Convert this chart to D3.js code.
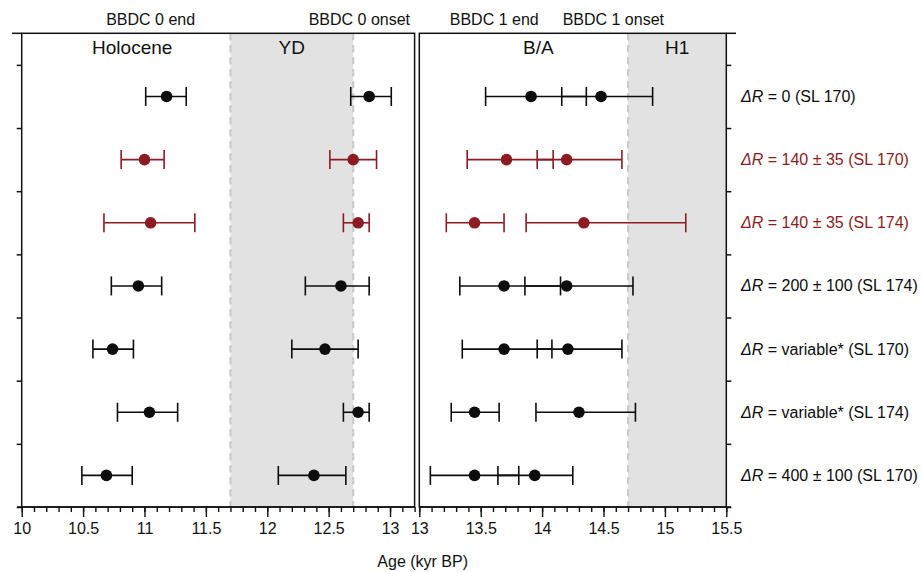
<!DOCTYPE html>
<html>
<head>
<meta charset="utf-8">
<script src="https://cdn.jsdelivr.net/npm/d3@7"></script>
<style>
  html, body { margin: 0; padding: 0; background: #fff; }
  svg { display: block; font-family: "Liberation Sans", Arial, Helvetica, sans-serif; }
</style>
</head>
<body>
<svg id="chart" width="922" height="572"></svg>
<script>
// Reservoir-age scenarios, one row each (top to bottom)
const deltaR = ["0", "140 ± 35", "140 ± 35", "200 ± 100", "variable*", "variable*", "400 ± 100"];
const cores = ["SL 170", "SL 170", "SL 174", "SL 174", "SL 170", "SL 174", "SL 170"];
const rowGroup = ["base", "alt", "alt", "base", "base", "base", "base"];

// Ages in kyr BP: [best estimate, lower bound, upper bound]
const bbdc0End = [
  [11.18, 11.01, 11.34], [11.00, 10.81, 11.16], [11.05, 10.67, 11.41], [10.95, 10.73, 11.14],
  [10.74, 10.58, 10.91], [11.04, 10.78, 11.27], [10.69, 10.49, 10.90]
];
const bbdc0Onset = [
  [12.83, 12.68, 13.01], [12.70, 12.51, 12.89], [12.74, 12.62, 12.83], [12.60, 12.31, 12.83],
  [12.47, 12.20, 12.74], [12.74, 12.62, 12.83], [12.38, 12.09, 12.64]
];
const bbdc1End = [
  [13.91, 13.54, 14.36], [13.71, 13.39, 14.09], [13.45, 13.22, 13.69], [13.69, 13.33, 14.15],
  [13.69, 13.35, 14.08], [13.45, 13.26, 13.65], [13.45, 13.09, 13.81]
];
const bbdc1Onset = [
  [14.48, 14.16, 14.90], [14.20, 13.96, 14.65], [14.34, 13.87, 15.17], [14.20, 13.86, 14.74],
  [14.21, 13.96, 14.65], [14.30, 13.95, 14.76], [13.94, 13.64, 14.25]
];

// Climate periods (shaded ones are stadials)
const periods = [
  { name: "Holocene", from: 10.0, to: 11.7, labelAt: 10.9, shaded: false },
  { name: "YD", from: 11.7, to: 12.7, labelAt: 12.2, shaded: true },
  { name: "B/A", from: 13.0, to: 14.7, labelAt: 13.97, shaded: false },
  { name: "H1", from: 14.7, to: 15.5, labelAt: 15.1, shaded: true }
];
const eventLabels = [
  { text: "BBDC 0 end", at: 11.05 },
  { text: "BBDC 0 onset", at: 12.75 },
  { text: "BBDC 1 end", at: 13.61 },
  { text: "BBDC 1 onset", at: 14.58 }
];

const leftTicks = [10, 10.5, 11, 11.5, 12, 12.5, 13];
const rightTicks = [13, 13.5, 14, 14.5, 15, 15.5];
const leftDomain = [10, 13.2];
const rightDomain = [13, 15.5];
const axisTitle = "Age (kyr BP)";

// ---------- layout ----------
const svg = d3.select("#chart");
const plotTop = 33.3, plotBottom = 507;
const xL = d3.scaleLinear().domain(leftDomain).range([21.7, 414.6]);
const xR = d3.scaleLinear().domain(rightDomain).range([419.3, 726.3]);
const y = d3.scaleLinear().domain([0, 7.5]).range([plotTop, plotBottom]);
const color = d3.scaleOrdinal().domain(["base", "alt"]).range(["#0d0d0d", "#8c1b24"]);

const ink = "#111";
const panels = [
  { x: xL, series: [bbdc0End, bbdc0Onset], ticks: leftTicks },
  { x: xR, series: [bbdc1End, bbdc1Onset], ticks: rightTicks }
];

// shading
periods.filter(p => p.shaded).forEach(p => {
  const sx = p.from < 13 ? xL : xR;
  svg.append("rect")
    .attr("x", sx(p.from)).attr("y", plotTop)
    .attr("width", sx(p.to) - sx(p.from)).attr("height", plotBottom - plotTop)
    .attr("fill", "#e2e2e2");
});
// dashed period boundaries
[[xL, 11.7], [xL, 12.7], [xR, 14.7]].forEach(([sx, v]) => {
  svg.append("line")
    .attr("x1", sx(v)).attr("x2", sx(v)).attr("y1", plotTop).attr("y2", plotBottom)
    .attr("stroke", "#cbcbcb").attr("stroke-width", 2.2)
    .attr("stroke-dasharray", "7,5");
});

// period names
periods.forEach(p => {
  const sx = p.from < 13 ? xL : xR;
  svg.append("text")
    .attr("x", sx(p.labelAt)).attr("y", 54)
    .attr("text-anchor", "middle").attr("font-size", 19).attr("fill", ink)
    .text(p.name);
});

// event names above the frame
eventLabels.forEach(e => {
  const sx = e.at < 13 ? xL : xR;
  svg.append("text")
    .attr("x", sx(e.at)).attr("y", 25)
    .attr("text-anchor", "middle").attr("font-size", 16).attr("fill", ink)
    .text(e.text);
});

// error bars and points
const cap = 9.5;
panels.forEach(panel => {
  const g = svg.append("g");
  panel.series.forEach(series => {
    series.forEach((d, i) => {
      const cy = y(i + 1);
      const c = color(rowGroup[i]);
      g.append("line")
        .attr("x1", panel.x(d[1])).attr("x2", panel.x(d[2]))
        .attr("y1", cy).attr("y2", cy)
        .attr("stroke", c).attr("stroke-width", 1.6);
      [d[1], d[2]].forEach(v => {
        g.append("line")
          .attr("x1", panel.x(v)).attr("x2", panel.x(v))
          .attr("y1", cy - cap).attr("y2", cy + cap)
          .attr("stroke", c).attr("stroke-width", 1.6);
      });
    });
  });
  panel.series.forEach(series => {
    series.forEach((d, i) => {
      g.append("circle")
        .attr("cx", panel.x(d[0])).attr("cy", y(i + 1)).attr("r", 5.8)
        .attr("fill", color(rowGroup[i]));
    });
  });
});

// frames
panels.forEach(panel => {
  const [x0, x1] = panel.x.range();
  svg.append("rect")
    .attr("x", x0).attr("y", plotTop).attr("width", x1 - x0).attr("height", plotBottom - plotTop)
    .attr("fill", "none").attr("stroke", ink).attr("stroke-width", 1.5);
});
// frame extensions at the outer corners
svg.append("line").attr("x1", 12).attr("x2", xL.range()[0]).attr("y1", plotTop).attr("y2", plotTop)
  .attr("stroke", ink).attr("stroke-width", 1.5);
svg.append("line").attr("x1", xR.range()[1]).attr("x2", 736).attr("y1", plotTop).attr("y2", plotTop)
  .attr("stroke", ink).attr("stroke-width", 1.5);

// row separators as outward ticks on the outer sides
const rowTicks = [0.5, 1.5, 2.5, 3.5, 4.5, 5.5, 6.5, 7.5];
const yLeft = svg.append("g").attr("transform", `translate(${xL.range()[0]},0)`)
  .call(d3.axisLeft(y).tickValues(rowTicks).tickSize(5).tickFormat(""));
const yRight = svg.append("g").attr("transform", `translate(${xR.range()[1]},0)`)
  .call(d3.axisRight(y).tickValues(rowTicks).tickSize(5).tickFormat(""));
[yLeft, yRight].forEach(a => {
  a.select(".domain").remove();
  a.selectAll("line").attr("stroke", ink).attr("stroke-width", 1.5);
});

// x axes: major ticks every 0.5, minor every 0.1
panels.forEach(panel => {
  const [d0, d1] = panel.x.domain();
  const minor = d3.range(Math.round(d0 * 10), Math.round(d1 * 10) + 1).map(v => v / 10);
  const gMinor = svg.append("g").attr("transform", `translate(0,${plotBottom})`)
    .call(d3.axisBottom(panel.x).tickValues(minor).tickSize(5).tickFormat(""));
  const gMajor = svg.append("g").attr("transform", `translate(0,${plotBottom})`)
    .call(d3.axisBottom(panel.x).tickValues(panel.ticks).tickSize(10).tickPadding(6)
      .tickFormat(d3.format("")));
  [gMinor, gMajor].forEach(a => {
    a.select(".domain").remove();
    a.selectAll("line").attr("stroke", ink).attr("stroke-width", 1.4);
    a.selectAll("text").attr("font-size", 16).attr("fill", ink)
      .attr("font-family", '"Liberation Sans", Arial, Helvetica, sans-serif');
  });
});
// baseline of the axes, extended slightly past the frame corners
svg.append("line").attr("x1", 17).attr("x2", xL.range()[1]).attr("y1", plotBottom).attr("y2", plotBottom)
  .attr("stroke", ink).attr("stroke-width", 1.5);
svg.append("line").attr("x1", xR.range()[0]).attr("x2", 731).attr("y1", plotBottom).attr("y2", plotBottom)
  .attr("stroke", ink).attr("stroke-width", 1.5);

svg.append("text")
  .attr("x", 422.7).attr("y", 567)
  .attr("text-anchor", "middle").attr("font-size", 16).attr("fill", ink)
  .text(axisTitle);

// row labels on the right
deltaR.forEach((v, i) => {
  const t = svg.append("text")
    .attr("x", 741).attr("y", y(i + 1) + 5.5)
    .attr("font-size", 16).attr("fill", color(rowGroup[i]));
  t.append("tspan").attr("font-style", "italic").text("ΔR");
  t.append("tspan").text(` = ${v} (${cores[i]})`);
});
</script>
</body>
</html>
